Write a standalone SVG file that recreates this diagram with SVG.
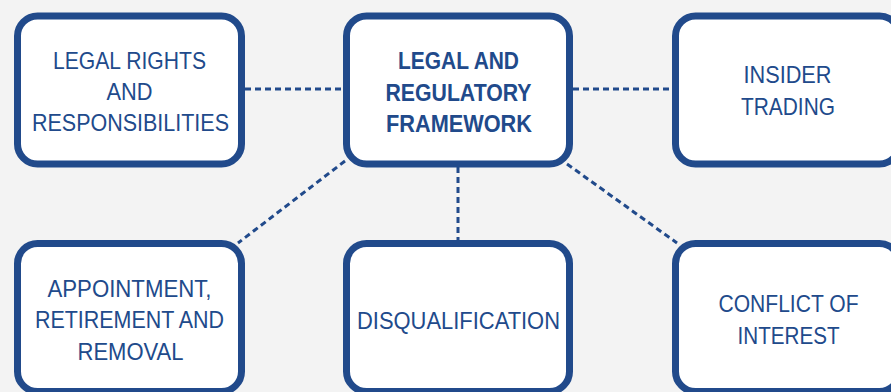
<svg xmlns="http://www.w3.org/2000/svg" width="891" height="392" viewBox="0 0 891 392">
<style>
.box{fill:#ffffff;stroke:#214a8b;stroke-width:7}
.con{stroke:#214a8b;stroke-width:3;stroke-dasharray:6 4;fill:none}
.t{font-family:"Liberation Sans",Arial,sans-serif;font-size:24px;fill:#214a8b;text-anchor:middle}
.b{font-weight:bold}
</style>
<rect width="891" height="392" fill="#f3f3f3"/>
<g id="connectors">
<line class="con" x1="245" y1="89" x2="343" y2="89"/>
<line class="con" x1="573" y1="89" x2="672" y2="89"/>
<line class="con" x1="458" y1="167" x2="458" y2="240"/>
<line class="con" x1="345" y1="161" x2="238" y2="243"/>
<line class="con" x1="567" y1="164" x2="677" y2="243"/>
</g>
<g id="legal-rights">
<rect class="box" x="17.5" y="16" width="224" height="148" rx="20"/>
<text class="t" x="129.5" y="69" textLength="153" lengthAdjust="spacingAndGlyphs">LEGAL RIGHTS</text>
<text class="t" x="129.5" y="100" textLength="46" lengthAdjust="spacingAndGlyphs">AND</text>
<text class="t" x="130.5" y="131" textLength="197" lengthAdjust="spacingAndGlyphs">RESPONSIBILITIES</text>
</g>
<g id="framework">
<rect class="box" x="346.5" y="16" width="223" height="148" rx="20"/>
<text class="t b" x="458.5" y="69" textLength="121" lengthAdjust="spacingAndGlyphs">LEGAL AND</text>
<text class="t b" x="458.5" y="100.5" textLength="146" lengthAdjust="spacingAndGlyphs">REGULATORY</text>
<text class="t b" x="459" y="131.5" textLength="146" lengthAdjust="spacingAndGlyphs">FRAMEWORK</text>
</g>
<g id="insider-trading">
<rect class="box" x="675.5" y="16" width="224" height="148" rx="20"/>
<text class="t" x="787.5" y="83" textLength="88" lengthAdjust="spacingAndGlyphs">INSIDER</text>
<text class="t" x="788" y="115" textLength="94" lengthAdjust="spacingAndGlyphs">TRADING</text>
</g>
<g id="appointment">
<rect class="box" x="17.5" y="243.5" width="224" height="148" rx="20"/>
<text class="t" x="129.5" y="296.5" textLength="164" lengthAdjust="spacingAndGlyphs">APPOINTMENT,</text>
<text class="t" x="129.5" y="328" textLength="189" lengthAdjust="spacingAndGlyphs">RETIREMENT AND</text>
<text class="t" x="130.5" y="360" textLength="106" lengthAdjust="spacingAndGlyphs">REMOVAL</text>
</g>
<g id="disqualification">
<rect class="box" x="346.5" y="243.5" width="223" height="148" rx="20"/>
<text class="t" x="458.5" y="328.5" textLength="203" lengthAdjust="spacingAndGlyphs">DISQUALIFICATION</text>
</g>
<g id="conflict">
<rect class="box" x="675.5" y="243.5" width="224" height="148" rx="20"/>
<text class="t" x="788.5" y="311.5" textLength="140" lengthAdjust="spacingAndGlyphs">CONFLICT OF</text>
<text class="t" x="788.5" y="343.5" textLength="102" lengthAdjust="spacingAndGlyphs">INTEREST</text>
</g>
</svg>
